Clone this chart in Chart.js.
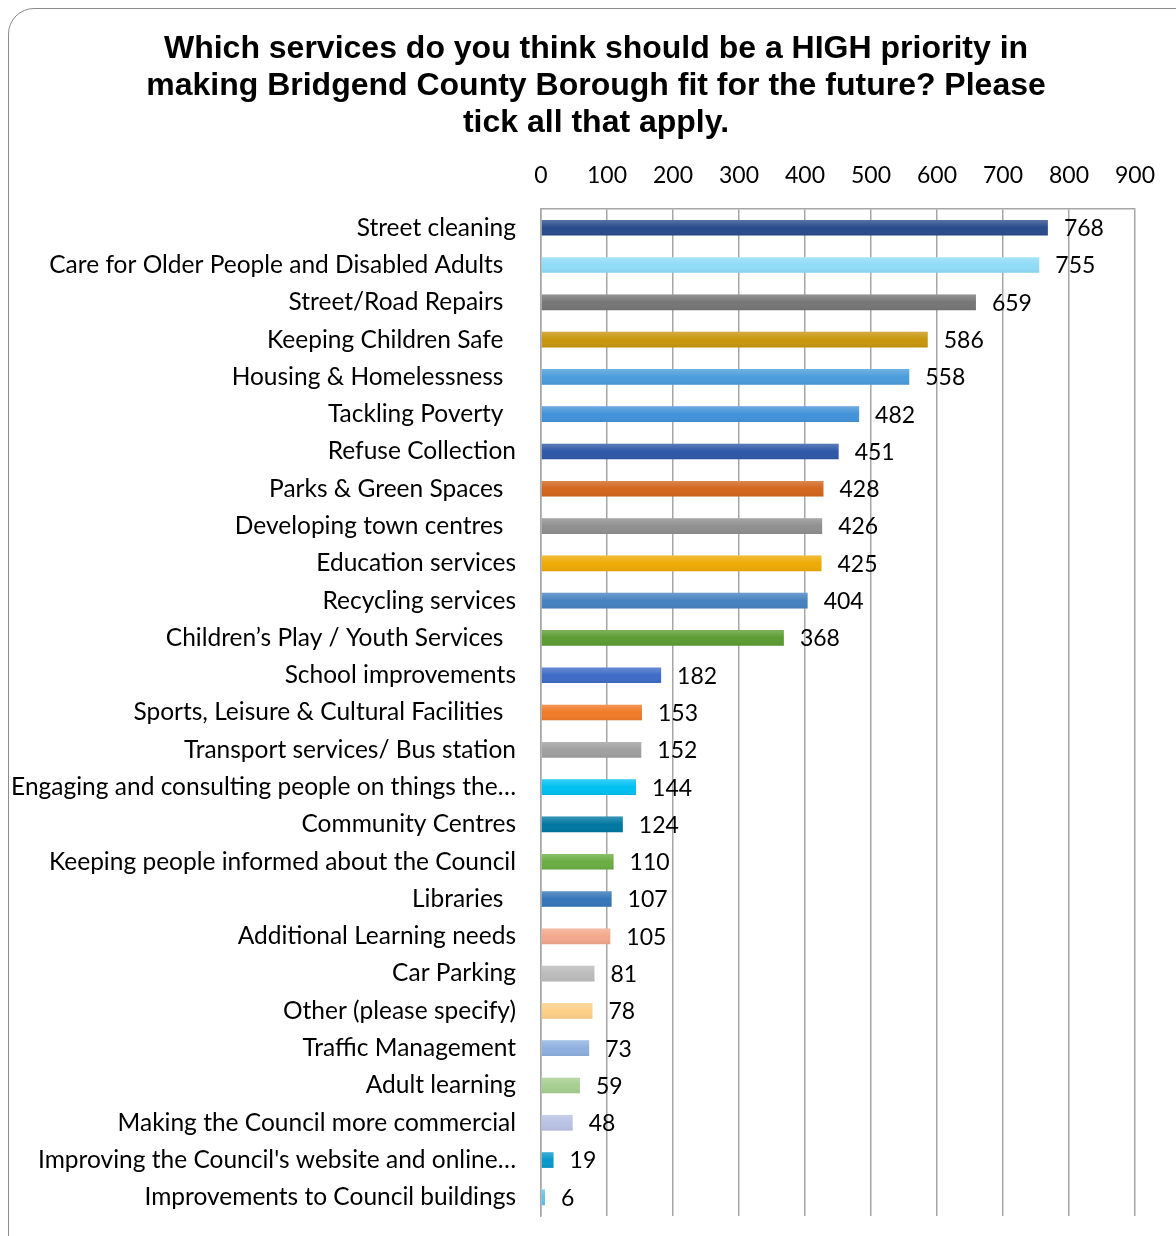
<!DOCTYPE html>
<html>
<head>
<meta charset="utf-8">
<script src="https://cdn.jsdelivr.net/npm/chart.js@4.4.1/dist/chart.umd.min.js"></script>
<style>
  html, body { margin: 0; padding: 0; background: #fff; overflow: hidden; }
  #frame {
    position: absolute; left: 8px; top: 8px; width: 1220px; height: 1260px;
    border: 1.5px solid #8c8c8c; border-radius: 26px; box-sizing: border-box;
  }
  #wrap { position: absolute; left: 0; top: 0; width: 1176px; height: 1236px; }
</style>
</head>
<body>
<div id="frame"></div>
<div id="wrap"><canvas id="chart" width="1176" height="1236"></canvas></div>
<script>
// services, top to bottom as in the survey report (some names carry trailing spaces)
const services = [
  'Street cleaning',
  'Care for Older People and Disabled Adults  ',
  'Street/Road Repairs  ',
  'Keeping Children Safe  ',
  'Housing & Homelessness  ',
  'Tackling Poverty  ',
  'Refuse Collection',
  'Parks & Green Spaces  ',
  'Developing town centres  ',
  'Education services',
  'Recycling services',
  'Children\u2019s Play / Youth Services  ',
  'School improvements',
  'Sports, Leisure & Cultural Facilities  ',
  'Transport services/ Bus station',
  'Engaging and consulting people on things the\u2026',
  'Community Centres',
  'Keeping people informed about the Council',
  'Libraries  ',
  'Additional Learning needs',
  'Car Parking',
  'Other (please specify)',
  'Traffic Management',
  'Adult learning',
  'Making the Council more commercial',
  'Improving the Council\'s website and online\u2026',
  'Improvements to Council buildings'
];

const responses = [768, 755, 659, 586, 558, 482, 451, 428, 426, 425, 404, 368,
  182, 153, 152, 144, 124, 110, 107, 105, 81, 78, 73, 59, 48, 19, 6];

const barColours = [
  '#2a4c8c', '#8fdcf7', '#767676', '#c8960c', '#4a9ddc', '#4292da',
  '#2f58a8', '#d2661e', '#8f8f8f', '#eeaa05', '#4682c0', '#5c9c32',
  '#3f6cc8', '#f07a28', '#a0a0a0', '#00c0f2', '#0077a0', '#6aae42',
  '#3576ba', '#f2a88c', '#bcbcbc', '#fdd088', '#8eb0e0', '#a6cf90',
  '#b8c2e4', '#0898cc', '#5cc4ec'
];

const axisTicks = [0, 100, 200, 300, 400, 500, 600, 700, 800, 900];

const textFont = { family: 'Lato', size: 24.5 };
const numberFont = { family: 'Lato', size: 23 };

// the title is centred on the whole frame, so the left padding is only for it;
// let the category labels use the space to its left
const unclipLabels = {
  id: 'unclipLabels',
  afterLayout(chart) {
    chart.scales.y.left = 0;
  }
};

// light sheen over each bar, then the value to the right of it
const barDecor = {
  id: 'barDecor',
  afterDatasetsDraw(chart) {
    const ctx = chart.ctx;
    const meta = chart.getDatasetMeta(0);
    ctx.save();
    meta.data.forEach((bar) => {
      const top = bar.y - bar.height / 2;
      const g = ctx.createLinearGradient(0, top, 0, top + bar.height);
      g.addColorStop(0, 'rgba(255,255,255,0.22)');
      g.addColorStop(0.5, 'rgba(255,255,255,0)');
      g.addColorStop(1, 'rgba(0,0,0,0.06)');
      ctx.fillStyle = g;
      ctx.fillRect(bar.base, top, bar.x - bar.base, bar.height);
    });
    ctx.font = numberFont.size + 'px ' + numberFont.family;
    ctx.fillStyle = '#000';
    ctx.textBaseline = 'middle';
    ctx.textAlign = 'left';
    meta.data.forEach((bar, i) => {
      ctx.fillText(String(responses[i]), bar.x + 16, bar.y + 1);
    });
    ctx.restore();
  }
};

new Chart(document.getElementById('chart'), {
  type: 'bar',
  data: {
    labels: services,
    datasets: [{
      data: responses,
      backgroundColor: barColours,
      borderWidth: 0,
      categoryPercentage: 1,
      barPercentage: 0.42
    }]
  },
  plugins: [unclipLabels, barDecor],
  options: {
    indexAxis: 'y',
    responsive: false,
    animation: false,
    layout: { padding: { left: 57, right: 41, top: 0, bottom: 20 } },
    plugins: {
      legend: { display: false },
      tooltip: { enabled: false },
      title: {
        display: true,
        text: [
          'Which services do you think should be a HIGH priority in',
          'making Bridgend County Borough fit for the future? Please',
          'tick all that apply.'
        ],
        color: '#000',
        font: { family: 'Liberation Sans', size: 32, weight: 'bold', lineHeight: 1.156 },
        padding: { top: 30.5, bottom: 0 }
      }
    },
    scales: {
      x: {
        position: 'top',
        min: 0,
        max: 900,
        afterBuildTicks: (scale) => {
          scale.ticks = axisTicks.map(v => ({ value: v }));
        },
        grid: { color: '#a6a6a6', lineWidth: 1.5, drawTicks: false },
        border: { display: true, color: '#a6a6a6', width: 1.5 },
        ticks: { color: '#000', font: numberFont, padding: 20, maxRotation: 0 }
      },
      y: {
        afterFit: (scale) => {
          scale.width = 484;
          scale.paddingTop = 0;
          scale.paddingBottom = 0;
        },
        grid: { display: false, drawTicks: false },
        border: { display: true, color: '#a6a6a6', width: 1.5 },
        ticks: { color: '#000', font: textFont, padding: 25, autoSkip: false }
      }
    }
  }
});
</script>
</body>
</html>
